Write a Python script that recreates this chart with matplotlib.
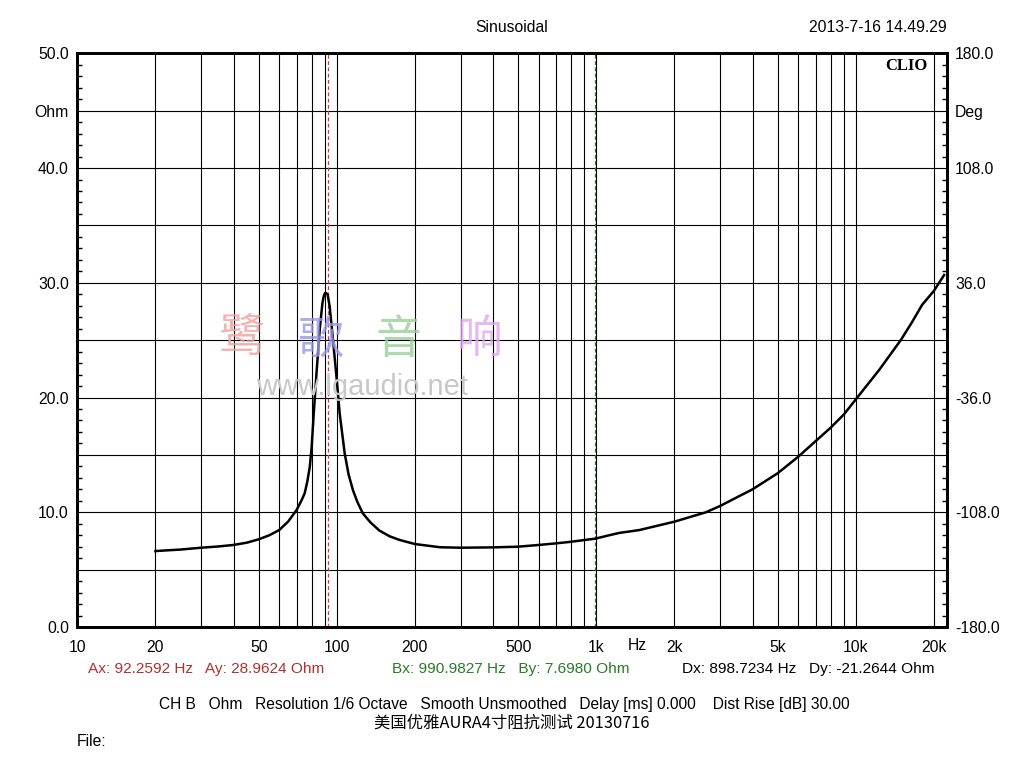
import matplotlib
matplotlib.use("Agg")
import matplotlib.pyplot as plt
from matplotlib.ticker import FixedLocator, NullFormatter

plt.rcParams['font.family'] = ['Liberation Sans', 'Noto Sans CJK SC', 'DejaVu Sans']

# ---- data ----
freq_hz = [20, 25, 30, 35, 40, 45, 50, 55, 60, 65, 70, 73, 75.2, 77, 78.7, 80, 81.5,
           83.5, 85.9, 88.0, 89.0, 90.0, 91.0, 92.26, 93.9, 96.7, 100, 102.6, 107.3,
           111, 115.5, 120, 126, 135, 146, 160, 175, 200, 250, 300, 400, 500, 600,
           700, 800, 900, 991, 1123, 1227, 1465, 2000, 2646, 3000, 4000, 5000, 6000,
           7000, 8000, 9000, 10000, 12300, 14900, 16500, 18000, 20000, 21900]
impedance_ohm = [6.62, 6.75, 6.91, 7.02, 7.15, 7.35, 7.64, 8.0, 8.45, 9.2, 10.2, 11.0,
                 11.65, 12.7, 13.97, 15.7, 18.6, 22.1, 25.9, 28.2, 28.8, 29.1, 29.1,
                 28.96, 27.9, 25.0, 21.5, 18.6, 15.1, 13.3, 11.9, 10.9, 9.9, 9.1, 8.4,
                 7.9, 7.58, 7.23, 6.95, 6.91, 6.94, 7.0, 7.15, 7.29, 7.43, 7.58, 7.70,
                 8.0, 8.2, 8.45, 9.18, 10.0, 10.55, 12.0, 13.4, 14.84, 16.2, 17.37,
                 18.53, 19.84, 22.4, 25.0, 26.6, 28.07, 29.3, 30.68]

x_grid = [m * d for d in (10, 100, 1000) for m in range(1, 10)] + [10000, 20000]
x_labels = {10: '10', 20: '20', 50: '50', 100: '100', 200: '200', 500: '500',
            1000: '1k', 2000: '2k', 5000: '5k', 10000: '10k', 20000: '20k'}
y_grid = [0, 5, 10, 15, 20, 25, 30, 35, 40, 45, 50]
y_left_labels = {0: '0.0', 10: '10.0', 20: '20.0', 30: '30.0', 40: '40.0', 45: 'Ohm', 50: '50.0'}
y_right_labels = {0: '-180.0', 10: '-108.0', 20: '-36.0', 30: '36.0', 40: '108.0', 45: 'Deg', 50: '180.0'}
cursor_a = 92.2592
cursor_b = 990.9827

W, H = 1024, 768
fig = plt.figure(figsize=(W / 100, H / 100), dpi=100)
L, R, T, B = 77.3, 946.7, 53.3, 627.0
ax = fig.add_axes([L / W, 1 - B / H, (R - L) / W, (B - T) / H])
ax.set_xscale('log')

ax.set_xticks(x_grid)
ax.set_xticklabels([x_labels.get(v, '') for v in x_grid])
ax.xaxis.set_minor_locator(FixedLocator([]))
ax.xaxis.set_minor_formatter(NullFormatter())
ax.set_yticks(y_grid)
ax.set_yticklabels([y_left_labels.get(v, '') for v in y_grid])
ax.yaxis.set_minor_locator(FixedLocator(list(range(0, 51))))
ax.set_xlim(10, 22400)
ax.set_ylim(0, 50)
ax.tick_params(axis='x', length=0, pad=9, labelsize=11.3)
ax.tick_params(axis='y', which='major', length=0, pad=6, labelsize=11.3)
ax.tick_params(axis='y', which='minor', direction='in', length=3.5, width=1.0,
               left=True, right=True)
ax.grid(True, which='major', color='black', linewidth=0.8)
ax.set_axisbelow(True)
for s in ax.spines.values():
    s.set_linewidth(2.0)
    s.set_color('black')

ax2 = ax.twinx()
ax2.set_yticks(y_grid)
ax2.set_yticklabels([y_right_labels.get(v, '') for v in y_grid])
ax2.yaxis.set_minor_locator(FixedLocator(list(range(0, 51))))
ax2.set_ylim(0, 50)
ax2.tick_params(axis='y', which='major', length=0, pad=6, labelsize=11.3)
ax2.tick_params(axis='y', which='minor', direction='in', length=3.5, width=1.0)
for s in ax2.spines.values():
    s.set_linewidth(2.0)
ax.set_xlim(10, 22400)

# watermark
wm_chars = ['鹭', '歌', '音', '响']
wm_x = [242, 320, 398, 480]
wm_colors = ['#f0a0a0', '#9898e8', '#98d098', '#e0a8ec']
for ch, xx, cc in zip(wm_chars, wm_x, wm_colors):
    fig.text(xx / W, 1 - 340 / H, ch, color=cc, fontsize=33, ha='center', va='center',
             family=['Noto Sans CJK SC'], alpha=0.8, zorder=0.5)
fig.text(362 / W, 1 - 387 / H, 'www.lgaudio.net', color='#c8c8c8', fontsize=21,
         ha='center', va='center', zorder=0.5)

ax.axvline(cursor_a, color='#c83c3c', linewidth=0.9, linestyle=(0, (3, 2)), zorder=2)
ax.axvline(cursor_b, color='#2a7a2a', linewidth=0.9, linestyle=(0, (3, 2)), zorder=2)
ax.plot(freq_hz, impedance_ohm, color='black', linewidth=1.8, zorder=3)

ax.text((928 - L) / (R - L), (B - 66) / (B - T), 'CLIO', transform=ax.transAxes,
        ha='right', va='center', fontsize=12, fontweight='bold', family=['Liberation Serif'])

fig.text(512 / W, 1 - 27 / H, 'Sinusoidal', ha='center', va='center', fontsize=11.3)
fig.text(947 / W, 1 - 27 / H, '2013-7-16 14.49.29', ha='right', va='center', fontsize=11.3)
fig.text(637 / W, 1 - 645 / H, 'Hz', ha='center', va='center', fontsize=11.3)

fig.text(88 / W, 1 - 669 / H, 'Ax: 92.2592 Hz   Ay: 28.9624 Ohm', ha='left', va='center',
         fontsize=11.1, color='#b03030')
fig.text(392 / W, 1 - 669 / H, 'Bx: 990.9827 Hz   By: 7.6980 Ohm', ha='left', va='center',
         fontsize=11.1, color='#2a7a2a')
fig.text(682 / W, 1 - 669 / H, 'Dx: 898.7234 Hz   Dy: -21.2644 Ohm', ha='left', va='center',
         fontsize=11.1, color='black')
fig.text(504 / W, 1 - 705 / H,
         'CH B   Ohm   Resolution 1/6 Octave   Smooth Unsmoothed   Delay [ms] 0.000    Dist Rise [dB] 30.00',
         ha='center', va='center', fontsize=11.2)
fig.text(512 / W, 1 - 723 / H, '美国优雅AURA4寸阻抗测试 20130716', ha='center', va='center',
         fontsize=11.8, family=['Noto Sans CJK SC', 'Liberation Sans'])
fig.text(77 / W, 1 - 742 / H, 'File:', ha='left', va='center', fontsize=11.3)

fig.savefig('out.png', dpi=100, facecolor='white')
